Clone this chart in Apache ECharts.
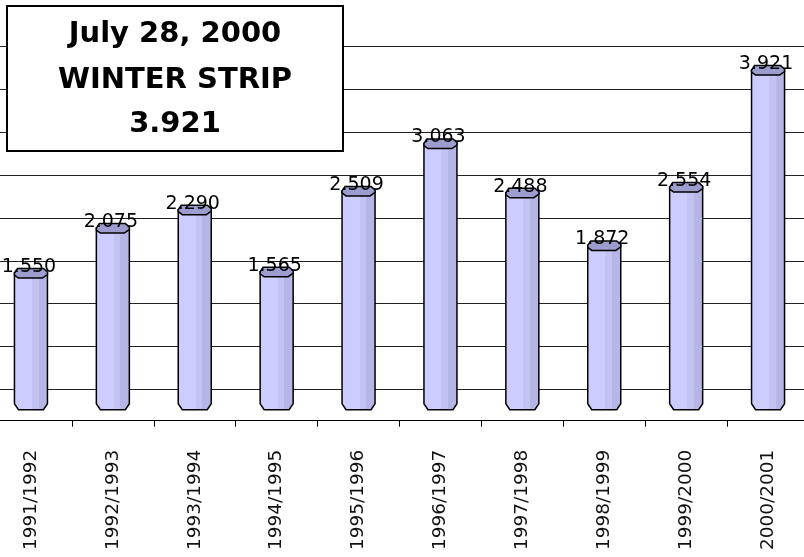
<!DOCTYPE html>
<html>
<head>
<meta charset="utf-8">
<script src="https://cdn.jsdelivr.net/npm/echarts@6/dist/echarts.min.js"></script>
<style>
html, body { margin: 0; padding: 0; background: #fff; }
#container { width: 804px; height: 557px; }
</style>
</head>
<body>
<div id="container"></div>
<script>
var seasons = ['1991/1992', '1992/1993', '1993/1994', '1994/1995', '1995/1996',
    '1996/1997', '1997/1998', '1998/1999', '1999/2000', '2000/2001']
var values = [1.550, 2.075, 2.290, 1.565, 2.509, 3.063, 2.488, 1.872, 2.554, 3.921]
var titleLines = ['July 28, 2000', 'WINTER STRIP', '3.921']

var barData = []
for (var i = 0; i < values.length; i++) {
    barData.push([i, values[i]])
}

var bodyFill = {
    type: 'linear', x: 0, y: 0, x2: 1, y2: 0,
    colorStops: [
        { offset: 0, color: '#ccccff' },
        { offset: 0.53, color: '#ccccff' },
        { offset: 0.53, color: '#c3c3f3' },
        { offset: 0.72, color: '#c3c3f3' },
        { offset: 0.72, color: '#b6b6e6' },
        { offset: 1, color: '#b6b6e6' }
    ]
}

// octagonal column: body, cap, value on top
function renderBar(params, api) {
    var top = api.coord([api.value(0), api.value(1)])
    var base = api.coord([api.value(0), 0])
    var cx = top[0], yt = top[1], yb = base[1]
    var hw = 16.5
    var body = [[cx - hw, yt], [cx - hw, yb - 2], [cx - hw + 4, yb + 4],
        [cx + hw - 4, yb + 4], [cx + hw, yb - 2], [cx + hw, yt]]
    var cap = [[cx - hw, yt], [cx - hw + 3, yt - 4.5], [cx + hw - 4, yt - 4.5], [cx + hw, yt - 1],
        [cx + hw, yt + 1.5], [cx + hw - 5, yt + 5], [cx - hw + 4, yt + 5], [cx - hw, yt + 2]]
    return {
        type: 'group',
        children: [
            { type: 'polygon', shape: { points: body }, style: { fill: bodyFill, stroke: '#000', lineWidth: 1.5 } },
            { type: 'polygon', shape: { points: cap }, style: { fill: '#9c9cce', stroke: '#000', lineWidth: 1.5 } },
            {
                type: 'text',
                style: {
                    text: api.value(1).toFixed(3), x: cx - 2, y: yt - 6,
                    fill: '#000', font: '19px "DejaVu Sans"', align: 'center', verticalAlign: 'middle'
                }
            }
        ]
    }
}

var myChart = echarts.init(document.getElementById('container'))
myChart.setOption({
    animation: false,
    backgroundColor: '#fff',
    grid: [
        { left: -10, width: 819, top: 63.3, height: 342.4, outerBoundsMode: 'none' },
        { left: 0, right: 0, top: 46.7, height: 342.6, outerBoundsMode: 'none' },
        { left: -10, width: 819, top: 400, height: 20.7, outerBoundsMode: 'none' }
    ],
    xAxis: [
        { type: 'category', gridIndex: 0, data: seasons, show: false },
        { type: 'category', gridIndex: 1, data: seasons, show: false },
        {
            type: 'category',
            gridIndex: 2,
            data: seasons,
            position: 'bottom',
            axisLine: { show: true, lineStyle: { color: '#000', width: 1 } },
            axisTick: { show: true, length: 6, inside: false, lineStyle: { color: '#000', width: 1 } },
            axisLabel: {
                show: true,
                interval: 0,
                rotate: 90,
                margin: 29,
                color: '#111',
                fontFamily: 'DejaVu Sans',
                fontSize: 18.5
            }
        }
    ],
    yAxis: [
        { type: 'value', gridIndex: 0, min: 0, max: 4, show: false },
        {
            type: 'value',
            gridIndex: 1,
            min: 0,
            max: 4,
            interval: 0.5,
            axisLine: { show: false },
            axisTick: { show: false },
            axisLabel: { show: false },
            splitLine: { lineStyle: { color: '#222', width: 1 } }
        },
        { type: 'value', gridIndex: 2, show: false }
    ],
    graphic: [
        {
            type: 'rect',
            z: 100,
            shape: { x: 7, y: 6, width: 336, height: 145 },
            style: { fill: '#fff', stroke: '#000', lineWidth: 2 }
        },
        {
            type: 'text', z: 101, x: 175, y: 34,
            style: { text: titleLines[0], fill: '#000', font: 'bold 29px "DejaVu Sans"', align: 'center', verticalAlign: 'middle' }
        },
        {
            type: 'text', z: 101, x: 175, y: 80,
            style: { text: titleLines[1], fill: '#000', font: 'bold 29px "DejaVu Sans"', align: 'center', verticalAlign: 'middle' }
        },
        {
            type: 'text', z: 101, x: 175, y: 124,
            style: { text: titleLines[2], fill: '#000', font: 'bold 29px "DejaVu Sans"', align: 'center', verticalAlign: 'middle' }
        }
    ],
    series: [
        {
            type: 'custom',
            xAxisIndex: 0,
            yAxisIndex: 0,
            renderItem: renderBar,
            data: barData
        }
    ]
})
</script>
</body>
</html>
